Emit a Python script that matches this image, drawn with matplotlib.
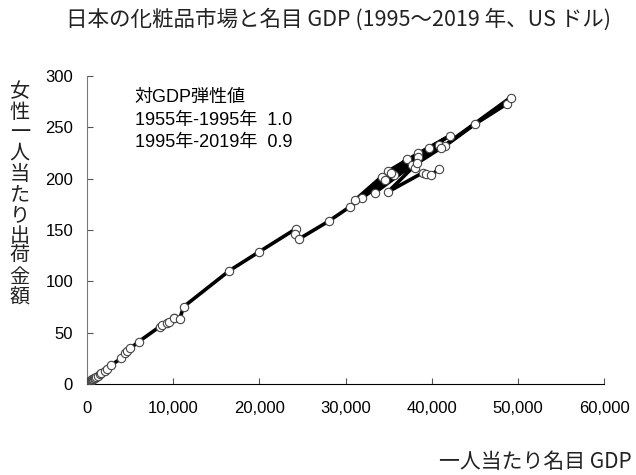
import matplotlib
matplotlib.use("Agg")
import matplotlib.pyplot as plt

# Per-capita nominal GDP (US$) and per-female cosmetics shipments, 1955-2019
years = list(range(1955, 2020))
gdp_per_capita = [
    270, 300, 340, 360, 410,
    475, 564, 634, 718, 836,
    920, 1059, 1229, 1451, 1669,
    2038, 2272, 2820, 3980, 4370,
    4650, 5030, 6000, 8430, 8700,
    9280, 10060, 9500, 10100, 10750,
    11220, 16510, 19990, 24210, 24090,
    24590, 28070, 30510, 35650, 39680,
    42150, 38440, 34950, 31870, 37090,
    38440, 34190, 31090, 34570, 37670,
    38050, 35300, 33410, 40870, 41530,
    45010, 48760, 49150, 41100, 38300,
    34950, 39020, 39330, 39900, 40830,
]
shipments_per_female = [
    2.2, 2.4, 2.7, 3.0, 3.3,
    3.6, 4.2, 4.6, 5.1, 5.8,
    6.3, 7.2, 8.2, 9.4, 10.8,
    13.0, 14.6, 18.5, 25.0, 30.0,
    32.5, 34.7, 41.2, 55.8, 57.4,
    59.7, 64.0, 60.5, 63.8, 63.3,
    75.3, 110.3, 128.8, 151.0, 145.7,
    141.2, 158.7, 172.6, 204.0, 229.5,
    242.0, 224.6, 207.4, 180.8, 218.8,
    221.0, 201.9, 179.0, 198.6, 213.0,
    210.0, 205.5, 186.3, 232.7, 231.7,
    253.0, 273.0, 279.0, 230.0, 215.0,
    187.2, 206.0, 204.5, 203.5, 209.0,
]

x_ticks = [0, 10000, 20000, 30000, 40000, 50000, 60000]
x_tick_labels = ["0", "10,000", "20,000", "30,000", "40,000", "50,000", "60,000"]
y_ticks = [0, 50, 100, 150, 200, 250, 300]

title_text = "日本の化粧品市場と名目 GDP (1995～2019 年、US ドル)"
y_label_text = "女性一人当たり出荷金額"
x_label_text = "一人当たり名目 GDP"
note_lines = ["対GDP弾性値", "1955年-1995年  1.0", "1995年-2019年  0.9"]

jp_font = ["Noto Sans CJK JP", "DejaVu Sans"]
mixed_font = ["Liberation Sans", "Noto Sans CJK JP"]

fig = plt.figure(figsize=(6.36, 4.75), dpi=100)
ax = fig.add_axes([0.1368, 0.1916, 0.8129, 0.6484])

ax.plot(gdp_per_capita, shipments_per_female, color="black", linewidth=2.6,
        marker="o", markersize=6, markerfacecolor="white",
        markeredgecolor="#444444", markeredgewidth=0.8, zorder=3)

ax.set_xlim(0, 60000)
ax.set_ylim(0, 300)
ax.set_xticks(x_ticks)
ax.set_xticklabels(x_tick_labels)
ax.set_yticks(y_ticks)
for lab in ax.get_xticklabels() + ax.get_yticklabels():
    lab.set_family(mixed_font)
    lab.set_fontsize(12)
ax.tick_params(direction="in", length=4, width=0.8, colors="#555555",
               labelcolor="black")
ax.tick_params(axis="x", pad=12)
ax.tick_params(axis="y", pad=10)
ax.spines["top"].set_visible(False)
ax.spines["right"].set_visible(False)
ax.spines["left"].set_color("#777777")
ax.spines["bottom"].set_color("black")

fig.text(0.532, 0.958, title_text, ha="center", va="center",
         fontsize=15.5, family=jp_font, color="#222222")
fig.text(0.031, 0.59, "\n".join(y_label_text), ha="center", va="center",
         fontsize=14.5, family=jp_font, linespacing=0.98, color="#222222")
fig.text(0.994, 0.027, x_label_text, ha="right", va="center",
         fontsize=15, family=jp_font, color="#222222")

note_y = [97, 121, 143]
for line, py in zip(note_lines, note_y):
    fig.text(0.212, 1 - py / 475, line, ha="left", va="center",
             fontsize=13, family=mixed_font, color="black")

fig.savefig("out.png", dpi=100)
